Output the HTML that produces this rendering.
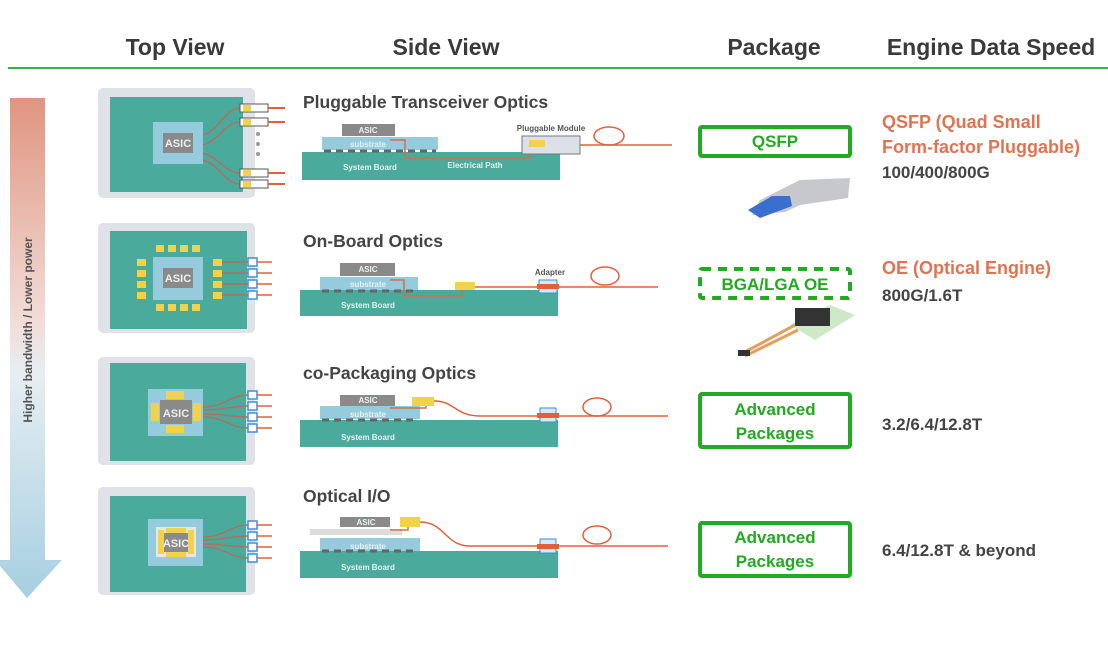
<!DOCTYPE html>
<html><head><meta charset="utf-8"><style>
html,body{margin:0;padding:0;background:#fff;width:1108px;height:647px;overflow:hidden}
svg{display:block;font-family:"Liberation Sans",sans-serif}
.h{font-size:23px;font-weight:bold;fill:#3a3a3c}
.t{font-size:17.5px;font-weight:bold;fill:#444}
.w{font-size:8px;font-weight:bold;fill:#e6f2ef}
.a{font-size:11px;font-weight:bold;fill:#eee}
.o{font-size:18px;font-weight:bold;fill:#e07452}
.d{font-size:17px;font-weight:bold;fill:#444}
.g{font-size:17px;font-weight:bold;fill:#22aa22}
</style></head><body>
<svg width="1108" height="647" viewBox="0 0 1108 647">
<defs>
<linearGradient id="ar" x1="0" y1="0" x2="0" y2="1">
<stop offset="0" stop-color="#e09580"/><stop offset="0.45" stop-color="#f2ddd8"/><stop offset="0.55" stop-color="#e6eef2"/><stop offset="1" stop-color="#a6cfe0"/></linearGradient>
</defs>
<text class="h" x="175" y="55" text-anchor="middle">Top View</text>
<text class="h" x="446" y="55" text-anchor="middle">Side View</text>
<text class="h" x="774" y="55" text-anchor="middle">Package</text>
<text class="h" x="991" y="55" text-anchor="middle">Engine Data Speed</text>
<line x1="8" y1="68" x2="1108" y2="68" stroke="#3cae4a" stroke-width="2"/>

<path d="M10 98 H45 V560 H62 L27 598 L-5 560 H10 Z" fill="url(#ar)"/>
<text transform="translate(32 330) rotate(-90)" text-anchor="middle" style="font-size:12px;font-weight:bold;fill:#555">Higher bandwidth / Lower power</text>

<!-- Row 1 top -->
<rect x="98" y="88" width="157" height="110" rx="5" fill="#dfe2e9"/>
<rect x="110" y="97" width="133" height="95" fill="#4aab9d"/>
<rect x="153" y="122" width="50" height="42" fill="#95cbdc"/>
<rect x="163" y="133" width="30" height="20" fill="#8a8a8a"/>
<text class="a" x="178" y="147" text-anchor="middle">ASIC</text>
<g fill="none" stroke="#b07060" stroke-width="1.5">
<path d="M203 135 C220 130 225 108 240 108"/><path d="M203 145 C220 140 225 122 240 122"/>
<path d="M203 153 C220 158 225 173 240 173"/><path d="M203 160 C220 165 225 184 240 184"/></g>
<g stroke="#555" stroke-width="1" fill="#fff">
<rect x="240" y="104" width="28" height="8"/><rect x="240" y="118" width="28" height="8"/>
<rect x="240" y="169" width="28" height="8"/><rect x="240" y="180" width="28" height="8"/></g>
<g fill="#f2d24a"><rect x="243" y="105" width="8" height="6"/><rect x="243" y="119" width="8" height="6"/><rect x="243" y="170" width="8" height="6"/><rect x="243" y="181" width="8" height="6"/></g>
<g stroke="#e0603c" stroke-width="2"><line x1="268" y1="108" x2="285" y2="108"/><line x1="268" y1="122" x2="285" y2="122"/><line x1="268" y1="173" x2="285" y2="173"/><line x1="268" y1="184" x2="285" y2="184"/></g>
<g fill="#999"><circle cx="258" cy="134" r="2"/><circle cx="258" cy="144" r="2"/><circle cx="258" cy="154" r="2"/></g>

<!-- Row 2 top -->
<rect x="98" y="223" width="157" height="110" rx="5" fill="#dfe2e9"/>
<rect x="110" y="231" width="137" height="98" fill="#4aab9d"/>
<rect x="153" y="257" width="50" height="43" fill="#95cbdc"/>
<rect x="163" y="268" width="30" height="20" fill="#8a8a8a"/>
<text class="a" x="178" y="282" text-anchor="middle">ASIC</text>
<g fill="#f2d24a">
<rect x="156" y="245" width="8" height="7"/><rect x="168" y="245" width="8" height="7"/><rect x="180" y="245" width="8" height="7"/><rect x="192" y="245" width="8" height="7"/>
<rect x="156" y="304" width="8" height="7"/><rect x="168" y="304" width="8" height="7"/><rect x="180" y="304" width="8" height="7"/><rect x="192" y="304" width="8" height="7"/>
<rect x="137" y="259" width="9" height="7"/><rect x="137" y="270" width="9" height="7"/><rect x="137" y="281" width="9" height="7"/><rect x="137" y="292" width="9" height="7"/>
<rect x="213" y="259" width="9" height="7"/><rect x="213" y="270" width="9" height="7"/><rect x="213" y="281" width="9" height="7"/><rect x="213" y="292" width="9" height="7"/></g>
<g stroke="#b07060" stroke-width="1.5"><line x1="222" y1="262" x2="248" y2="262"/><line x1="222" y1="273" x2="248" y2="273"/><line x1="222" y1="284" x2="248" y2="284"/><line x1="222" y1="295" x2="248" y2="295"/></g>

<!-- Row 3 top -->
<rect x="98" y="357" width="157" height="108" rx="5" fill="#dfe2e9"/>
<rect x="110" y="363" width="136" height="98" fill="#4aab9d"/>
<rect x="148" y="389" width="55" height="47" fill="#95cbdc"/>
<rect x="160" y="400" width="32" height="24" fill="#8a8a8a"/>
<g fill="#f2d24a"><rect x="166" y="391" width="18" height="8"/><rect x="166" y="425" width="18" height="8"/><rect x="151" y="403" width="8" height="18"/><rect x="193" y="403" width="8" height="18"/></g>
<text class="a" x="176" y="417" text-anchor="middle">ASIC</text>
<g fill="none" stroke="#b07060" stroke-width="1.5">
<path d="M203 407 C225 407 230 395 248 395"/><path d="M203 410 C225 410 230 406 248 406"/><path d="M203 414 C225 414 230 417 248 417"/><path d="M203 417 C225 417 230 428 248 428"/></g>

<!-- Row 4 top -->
<rect x="98" y="487" width="157" height="108" rx="5" fill="#dfe2e9"/>
<rect x="110" y="496" width="136" height="96" fill="#4aab9d"/>
<rect x="148" y="519" width="55" height="47" fill="#95cbdc"/>
<rect x="156" y="527" width="40" height="30" fill="#e6e6e6"/>
<g fill="#f2d24a"><rect x="158" y="530" width="6" height="24"/><rect x="188" y="530" width="6" height="24"/><rect x="166" y="528" width="20" height="5"/><rect x="166" y="552" width="20" height="5"/></g>
<rect x="164" y="533" width="24" height="19" fill="#8a8a8a"/>
<text class="a" x="176" y="547" text-anchor="middle">ASIC</text>
<g fill="none" stroke="#b07060" stroke-width="1.5">
<path d="M203 537 C225 537 230 525 248 525"/><path d="M203 540 C225 540 230 536 248 536"/><path d="M203 544 C225 544 230 547 248 547"/><path d="M203 547 C225 547 230 558 248 558"/></g>

<!-- connectors rows 2-4 -->
<g stroke="#3a8ee0" stroke-width="1.5" fill="#fff">
<rect x="248" y="258" width="9" height="8"/><rect x="248" y="269" width="9" height="8"/><rect x="248" y="280" width="9" height="8"/><rect x="248" y="291" width="9" height="8"/>
<rect x="248" y="391" width="9" height="8"/><rect x="248" y="402" width="9" height="8"/><rect x="248" y="413" width="9" height="8"/><rect x="248" y="424" width="9" height="8"/>
<rect x="248" y="521" width="9" height="8"/><rect x="248" y="532" width="9" height="8"/><rect x="248" y="543" width="9" height="8"/><rect x="248" y="554" width="9" height="8"/></g>
<g stroke="#e0603c" stroke-width="1.5">
<line x1="257" y1="262" x2="272" y2="262"/><line x1="257" y1="273" x2="272" y2="273"/><line x1="257" y1="284" x2="272" y2="284"/><line x1="257" y1="295" x2="272" y2="295"/>
<line x1="257" y1="395" x2="272" y2="395"/><line x1="257" y1="406" x2="272" y2="406"/><line x1="257" y1="417" x2="272" y2="417"/><line x1="257" y1="428" x2="272" y2="428"/>
<line x1="257" y1="525" x2="272" y2="525"/><line x1="257" y1="536" x2="272" y2="536"/><line x1="257" y1="547" x2="272" y2="547"/><line x1="257" y1="558" x2="272" y2="558"/></g>

<!-- Side views -->
<text class="t" x="303" y="108">Pluggable Transceiver Optics</text>
<rect x="302" y="152" width="258" height="28" fill="#4aab9d"/>
<rect x="322" y="137" width="116" height="13" fill="#95cbdc"/>
<line x1="324" y1="151" x2="436" y2="151" stroke="#666" stroke-width="3" stroke-dasharray="7 5"/>
<rect x="342" y="124" width="53" height="12" fill="#8a8a8a"/>
<text class="w" x="368" y="133" text-anchor="middle">ASIC</text>
<text class="w" x="368" y="147" text-anchor="middle">substrate</text>
<text class="w" x="370" y="170" text-anchor="middle">System Board</text>
<text class="w" x="475" y="168" text-anchor="middle">Electrical Path</text>
<path d="M390 140 H405 V158 H530 V152" fill="none" stroke="#d0704e" stroke-width="1.5"/>
<rect x="522" y="136" width="58" height="18" fill="#dde0e8" stroke="#777"/>
<rect x="529" y="140" width="16" height="7" fill="#f2d24a"/>
<text x="551" y="131" text-anchor="middle" style="font-size:8px;font-weight:bold;fill:#555">Pluggable Module</text>
<path d="M580 145 H672" stroke="#e0603c" stroke-width="1.5"/>
<ellipse cx="609" cy="136" rx="15" ry="9" fill="none" stroke="#e0603c" stroke-width="1.5"/>

<text class="t" x="303" y="247">On-Board Optics</text>
<rect x="300" y="290" width="258" height="26" fill="#4aab9d"/>
<rect x="320" y="277" width="98" height="13" fill="#95cbdc"/>
<line x1="322" y1="291" x2="416" y2="291" stroke="#666" stroke-width="3" stroke-dasharray="7 5"/>
<rect x="340" y="263" width="55" height="13" fill="#8a8a8a"/>
<text class="w" x="368" y="272" text-anchor="middle">ASIC</text>
<text class="w" x="368" y="287" text-anchor="middle">substrate</text>
<text class="w" x="368" y="308" text-anchor="middle">System Board</text>
<path d="M390 280 H404 V296 H462 V290" fill="none" stroke="#d0704e" stroke-width="1.5"/>
<rect x="455" y="282" width="20" height="8" fill="#f2d24a"/>
<text x="550" y="275" text-anchor="middle" style="font-size:8px;font-weight:bold;fill:#555">Adapter</text>
<path d="M475 287 H658" stroke="#e0603c" stroke-width="1.5"/>
<rect x="539" y="280" width="18" height="13" fill="#dbe8f0" stroke="#3a8ee0"/>
<rect x="537" y="284" width="22" height="5" fill="#e0603c"/>
<ellipse cx="605" cy="276" rx="14" ry="9" fill="none" stroke="#e0603c" stroke-width="1.5"/>

<text class="t" x="303" y="379">co-Packaging Optics</text>
<rect x="300" y="420" width="258" height="27" fill="#4aab9d"/>
<rect x="320" y="406" width="100" height="13" fill="#95cbdc"/>
<line x1="322" y1="420" x2="418" y2="420" stroke="#666" stroke-width="3" stroke-dasharray="7 5"/>
<rect x="340" y="395" width="55" height="11" fill="#8a8a8a"/>
<rect x="412" y="397" width="22" height="9" fill="#f2d24a"/>
<text class="w" x="368" y="403" text-anchor="middle">ASIC</text>
<text class="w" x="368" y="417" text-anchor="middle">substrate</text>
<text class="w" x="368" y="440" text-anchor="middle">System Board</text>
<path d="M390 408 H426 V406" fill="none" stroke="#d0704e" stroke-width="1.5"/>
<path d="M434 401 C455 401 455 416 480 416 H668" fill="none" stroke="#e0603c" stroke-width="1.5"/>
<rect x="540" y="408" width="16" height="14" fill="#dbe8f0" stroke="#3a8ee0"/>
<rect x="537" y="413" width="22" height="5" fill="#e0603c"/>
<ellipse cx="597" cy="407" rx="14" ry="9" fill="none" stroke="#e0603c" stroke-width="1.5"/>

<text class="t" x="303" y="502">Optical I/O</text>
<rect x="300" y="551" width="258" height="27" fill="#4aab9d"/>
<rect x="320" y="538" width="100" height="13" fill="#95cbdc"/>
<line x1="322" y1="551" x2="418" y2="551" stroke="#666" stroke-width="3" stroke-dasharray="7 5"/>
<rect x="310" y="529" width="92" height="6" fill="#dcdcdc"/>
<rect x="340" y="517" width="50" height="10" fill="#8a8a8a"/>
<rect x="400" y="517" width="20" height="10" fill="#f2d24a"/>
<text class="w" x="366" y="525" text-anchor="middle">ASIC</text>
<text class="w" x="368" y="549" text-anchor="middle">substrate</text>
<text class="w" x="368" y="570" text-anchor="middle">System Board</text>
<path d="M390 530 H408 V527" fill="none" stroke="#d0704e" stroke-width="1.5"/>
<path d="M420 522 C445 522 445 546 470 546 H668" fill="none" stroke="#e0603c" stroke-width="1.5"/>
<rect x="540" y="539" width="16" height="14" fill="#dbe8f0" stroke="#3a8ee0"/>
<rect x="537" y="544" width="22" height="5" fill="#e0603c"/>
<ellipse cx="597" cy="535" rx="14" ry="9" fill="none" stroke="#e0603c" stroke-width="1.5"/>

<!-- Packages -->
<rect x="700" y="127" width="150" height="29" rx="2" fill="none" stroke="#22aa22" stroke-width="4"/>
<text class="g" x="775" y="147" text-anchor="middle">QSFP</text>
<path d="M760 200 L800 180 L850 178 L848 198 L800 205 L785 212 L752 215 Z" fill="#c6c8cc"/>
<path d="M748 210 L772 196 L790 196 L792 206 L760 218 Z" fill="#3a6fd0"/>
<rect x="700" y="269" width="150" height="29" rx="2" fill="none" stroke="#22aa22" stroke-width="4" stroke-dasharray="9 7"/>
<text class="g" x="775" y="290" text-anchor="middle">BGA/LGA OE</text>
<path d="M790 325 L830 305 L855 315 L815 340 Z" fill="#cfe8c8"/>
<rect x="795" y="308" width="35" height="18" fill="#333"/>
<path d="M745 352 L795 325" stroke="#e0a060" stroke-width="3"/>
<path d="M745 356 L798 330" stroke="#e0a060" stroke-width="3"/>
<rect x="738" y="350" width="12" height="6" fill="#333"/>
<rect x="700" y="394" width="150" height="53" rx="2" fill="none" stroke="#22aa22" stroke-width="4"/>
<text class="g" x="775" y="415" text-anchor="middle">Advanced</text>
<text class="g" x="775" y="439" text-anchor="middle">Packages</text>
<rect x="700" y="523" width="150" height="53" rx="2" fill="none" stroke="#22aa22" stroke-width="4"/>
<text class="g" x="775" y="543" text-anchor="middle">Advanced</text>
<text class="g" x="775" y="567" text-anchor="middle">Packages</text>

<!-- Speeds -->
<text class="o" x="882" y="128">QSFP (Quad Small</text>
<text class="o" x="882" y="153">Form-factor Pluggable)</text>
<text class="d" x="882" y="178">100/400/800G</text>
<text class="o" x="882" y="274">OE (Optical Engine)</text>
<text class="d" x="882" y="301">800G/1.6T</text>
<text class="d" x="882" y="430">3.2/6.4/12.8T</text>
<text class="d" x="882" y="556">6.4/12.8T &amp; beyond</text>
</svg>
</body></html>
